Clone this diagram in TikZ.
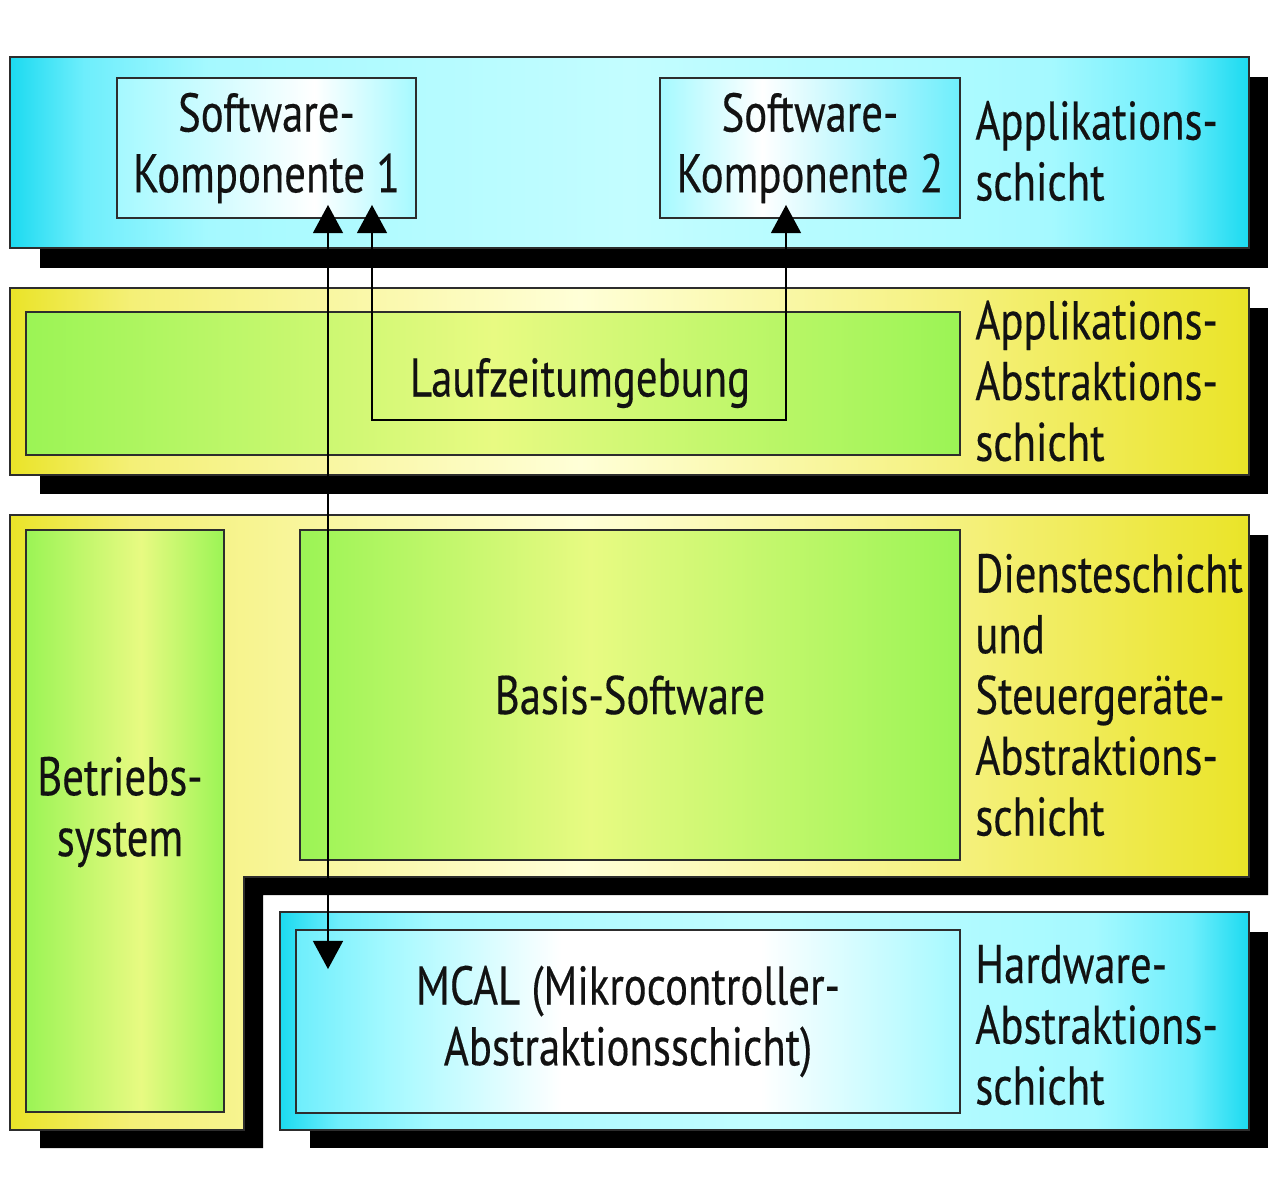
\documentclass[tikz,border=0pt]{standalone}
\usepackage{fontspec}
\setmainfont{PT Sans}[FakeStretch=0.785,FakeBold=0.3]
\usetikzlibrary{arrows.meta,calc}
\definecolor{cyD}{RGB}{28,218,240}
\definecolor{cyM}{RGB}{110,238,252}
\definecolor{cyL}{RGB}{165,249,255}
\definecolor{cyW}{RGB}{195,253,255}
\definecolor{yD}{RGB}{234,228,40}
\definecolor{yM}{RGB}{244,240,120}
\definecolor{yL}{RGB}{255,255,215}
\definecolor{gD}{RGB}{155,244,85}
\definecolor{gL}{RGB}{232,250,130}
\definecolor{bord}{RGB}{45,45,45}
\definecolor{ink}{RGB}{18,18,18}
\pgfdeclarehorizontalshading{cylayer}{100bp}{color(0bp)=(cyD); color(25bp)=(cyD); color(28bp)=(cyM); color(33bp)=(cyL); color(50bp)=(cyW); color(67bp)=(cyL); color(72bp)=(cyM); color(75bp)=(cyD); color(100bp)=(cyD)}
\pgfdeclarehorizontalshading{ylayer}{100bp}{color(0bp)=(yD); color(25bp)=(yD); color(30bp)=(yM); color(48bp)=(yL); color(64bp)=(yM); color(75bp)=(yD); color(100bp)=(yD)}
\pgfdeclarehorizontalshading{swkA}{100bp}{color(0bp)=(cyL); color(25bp)=(cyL); color(58bp)=(white); color(75bp)=(cyL); color(100bp)=(cyL)}
\pgfdeclarehorizontalshading{swkB}{100bp}{color(0bp)=(cyL); color(25bp)=(cyL); color(42bp)=(white); color(75bp)=(cyM); color(100bp)=(cyM)}
\pgfdeclarehorizontalshading{mcalsh}{100bp}{color(0bp)=(cyM); color(25bp)=(cyM); color(32bp)=(cyL); color(45bp)=(white); color(60bp)=(white); color(75bp)=(cyL); color(100bp)=(cyL)}
\pgfdeclarehorizontalshading{grsh}{100bp}{color(0bp)=(gD); color(25bp)=(gD); color(50bp)=(gL); color(75bp)=(gD); color(100bp)=(gD)}
\pgfdeclarehorizontalshading{grshB}{100bp}{color(0bp)=(gD); color(25bp)=(gD); color(47bp)=(gL); color(75bp)=(gD); color(100bp)=(gD)}
\pgfdeclarehorizontalshading{grshC}{100bp}{color(0bp)=(gD); color(25bp)=(gD); color(54bp)=(gL); color(75bp)=(gD); color(100bp)=(gD)}
\newcommand\lblfont{\fontsize{31pt}{34.6pt}\selectfont}
\tikzset{
  layerline/.style={draw=bord, line width=0.9pt},
  shadow/.style={fill=black},
  box/.style={draw=bord, line width=1.1pt, inner sep=0pt, font=\lblfont, text=ink, align=center},
  lbl/.style={inner sep=0pt, font=\lblfont, text=ink, align=left, anchor=west},
  txt/.style={inner sep=0pt, font=\lblfont, text=ink, align=center},
  conn/.style={draw=black, line width=1.1pt, {Triangle[width=17pt,length=16pt]}-{Triangle[width=17pt,length=16pt]}}
}
\begin{document}
\begin{tikzpicture}[x=0.02cm,y=-0.02cm]
\useasboundingbox[fill=white] (0,0) rectangle (1280,1190);
% shadows
\fill[shadow] (40,77) rectangle (1268,268);
\fill[shadow] (40,308) rectangle (1268,494);
\fill[shadow] (40,535) -- (1268,535) -- (1268,895) -- (263,895) -- (263,1148) -- (40,1148) -- cycle;
\fill[shadow] (310,932) rectangle (1268,1148);
% layers
\shade[layerline, shading=cylayer] (10,57) rectangle (1249,248);
\shade[layerline, shading=ylayer] (10,288) rectangle (1249,475);
\shade[layerline, shading=ylayer] (10,515) -- (1249,515) -- (1249,877) -- (244,877) -- (244,1130) -- (10,1130) -- cycle;
\shade[layerline, shading=cylayer] (280,912) rectangle (1249,1130);
% boxes
\node[box, shading=swkA, minimum width=5.98cm, minimum height=2.8cm] (swk1) at (266.5,148) {Software-\\Komponente 1};
\node[box, shading=swkB, minimum width=6cm, minimum height=2.8cm] (swk2) at (810,148) {Software-\\Komponente 2};
\node[box, shading=grsh, minimum width=18.68cm, minimum height=2.86cm] (rte) at (493,383.5) {};
\node[txt] (lz) at (580,383) {Laufzeitumgebung};
\node[box, shading=grshC, minimum width=3.96cm, minimum height=11.64cm] (os) at (125,821) {};
\node[txt] (ostxt) at (120,812) {Betriebs-\\system};
\node[box, shading=grshB, minimum width=13.2cm, minimum height=6.6cm] (basis) at (630,695) {Basis-Software};
\node[box, shading=mcalsh, minimum width=13.28cm, minimum height=3.66cm] (mcal) at (628,1021.5) {MCAL (Mikrocontroller-\\Abstraktionsschicht)};
% layer labels
\node[lbl] (l1) at (975,151) {Applikations-\\schicht};
\node[lbl] (l2) at (975,381) {Applikations-\\Abstraktions-\\schicht};
\node[lbl] (l3) at (975,695) {Diensteschicht\\und\\Steuerger\"ate-\\Abstraktions-\\schicht};
\node[lbl] (l4) at (975,1025) {Hardware-\\Abstraktions-\\schicht};
% connectors
\coordinate (xA) at (328,0);
\coordinate (lzL) at (372,420);
\coordinate (lzR) at (786,420);
\coordinate (t1) at ($(swk1.south -| xA)+(0,-14)$);
\coordinate (t2) at ($(mcal.north -| xA)+(0,40)$);
\coordinate (t3) at ($(swk1.south -| lzL)+(0,-14)$);
\coordinate (t4) at ($(swk2.south -| lzR)+(0,-14)$);
\draw[conn] (t1) -- (t2);
\draw[conn] (t3) -- (lzL) -- (lzR) -- (t4);
\end{tikzpicture}
\end{document}
